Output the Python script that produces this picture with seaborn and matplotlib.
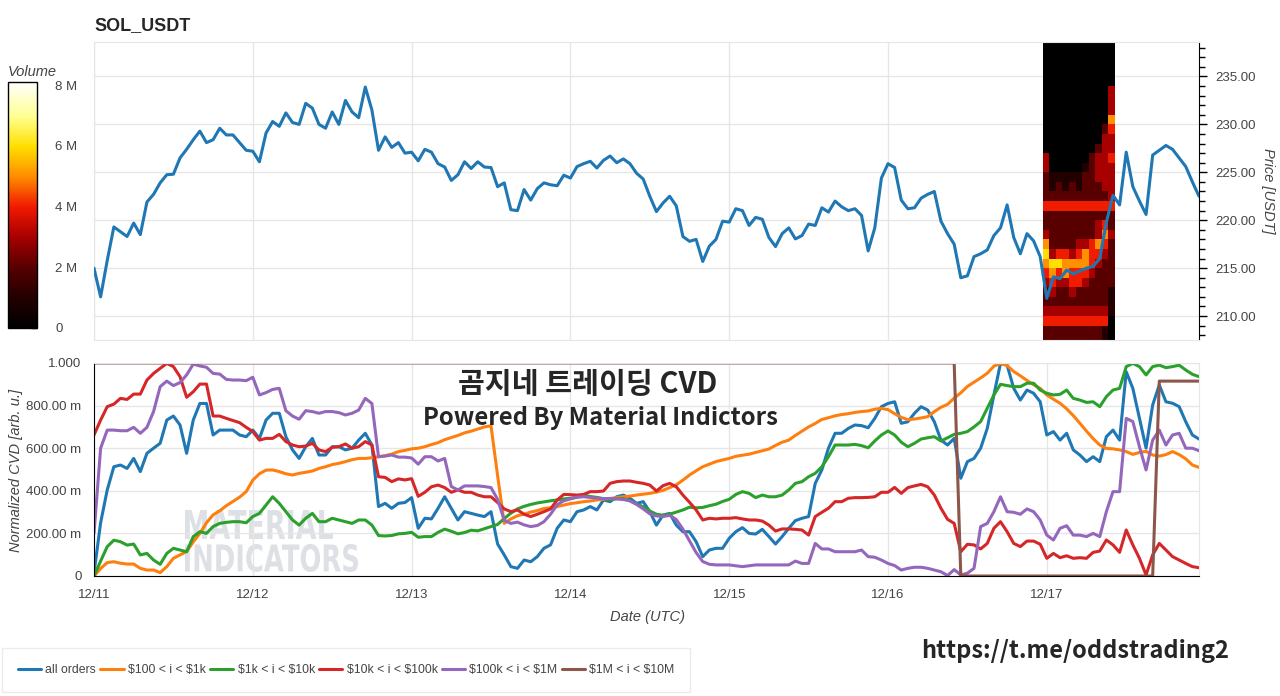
import numpy as np
import pandas as pd
import seaborn as sns
import matplotlib
matplotlib.use('Agg')
import matplotlib.pyplot as plt
from matplotlib.colors import LinearSegmentedColormap, Normalize
from matplotlib.cm import ScalarMappable
from matplotlib.ticker import MultipleLocator, FuncFormatter
from matplotlib.lines import Line2D
from matplotlib.textpath import TextPath
from matplotlib.patches import PathPatch
from matplotlib.font_manager import FontProperties
from matplotlib.transforms import Affine2D

W, H = 1280, 696

# ---- data (hourly, hour 0 = 12/11 00:00 UTC) ----
day_labels = ['12/11', '12/12', '12/13', '12/14', '12/15', '12/16', '12/17']

price = [215.0, 212.0, 215.8, 219.3, 218.8, 218.3, 219.7, 218.5, 221.9, 222.7,
         223.9, 224.75, 224.8, 226.5, 227.4, 228.4, 229.3, 228.1, 228.4, 229.6,
         228.9, 228.9, 228.1, 227.3, 227.2, 226.1, 229.1, 230.3, 229.8, 231.2,
         230.2, 230.0, 232.2, 231.7, 230.0, 229.6, 231.3, 230.0, 232.5, 231.3,
         230.7, 233.9, 231.5, 227.3, 228.7, 227.6, 228.1, 227.0, 227.1, 226.2,
         227.4, 227.1, 225.9, 225.55, 224.15, 224.75, 226.1, 225.4, 226.1, 225.55,
         225.5, 223.5, 223.9, 221.1, 221.0, 223.2, 222.1, 223.3, 223.9, 223.7,
         223.6, 224.7, 224.4, 225.6, 225.9, 226.15, 225.45, 226.25, 226.7, 226.0,
         226.4, 225.9, 224.9, 224.3, 222.5, 220.9, 221.8, 222.5, 221.5, 218.3,
         217.8, 218.0, 215.7, 217.3, 218.0, 219.9, 219.8, 221.2, 221.0, 219.45,
         220.3, 220.1, 218.2, 217.25, 218.6, 219.2, 218.05, 218.4, 219.6, 219.45,
         221.3, 220.85, 222.0, 221.4, 221.0, 221.2, 220.5, 216.8, 219.2, 224.4,
         225.9, 225.5, 222.1, 221.2, 221.3, 222.3, 222.7, 223.0, 219.9, 218.6,
         217.5, 214.0, 214.2, 216.2, 216.5, 216.9, 218.4, 219.2, 221.6, 218.2,
         216.5, 218.6, 217.85, 216.2, 211.85, 214.1, 213.9, 214.8, 214.4, 214.7,
         215.0, 215.2, 216.0, 219.8, 222.6, 221.6, 227.1, 223.5, 222.0, 220.6,
         226.8, 227.3, 227.8, 227.4, 226.5, 225.6, 224.0, 222.5]

cvd_all = [0.013, 0.25, 0.404, 0.513, 0.521, 0.505, 0.552, 0.49, 0.576, 0.60,
           0.623, 0.732, 0.751, 0.709, 0.576, 0.732, 0.81, 0.81, 0.662, 0.685,
           0.685, 0.685, 0.662, 0.654, 0.685, 0.646, 0.732, 0.764, 0.764, 0.654,
           0.592, 0.552, 0.607, 0.646, 0.568, 0.568, 0.607, 0.607, 0.592, 0.60,
           0.638, 0.67, 0.615, 0.326, 0.341, 0.318, 0.341, 0.345, 0.368, 0.224,
           0.271, 0.268, 0.318, 0.372, 0.318, 0.263, 0.302, 0.294, 0.286, 0.279,
           0.302, 0.15, 0.099, 0.044, 0.036, 0.075, 0.067, 0.091, 0.13, 0.146,
           0.224, 0.263, 0.255, 0.302, 0.31, 0.326, 0.31, 0.357, 0.349, 0.372,
           0.38, 0.365, 0.341, 0.349, 0.302, 0.239, 0.286, 0.294, 0.239, 0.208,
           0.208, 0.161, 0.091, 0.122, 0.13, 0.13, 0.177, 0.208, 0.227, 0.20,
           0.197, 0.219, 0.185, 0.15, 0.185, 0.224, 0.26, 0.271, 0.279, 0.435,
           0.498, 0.60, 0.67, 0.67, 0.693, 0.709, 0.706, 0.696, 0.74, 0.795,
           0.81, 0.818, 0.717, 0.724, 0.764, 0.795, 0.779, 0.724, 0.638, 0.615,
           0.646, 0.459, 0.537, 0.552, 0.60, 0.693, 0.85, 0.998, 0.99, 0.881,
           0.826, 0.873, 0.858, 0.818, 0.662, 0.678, 0.638, 0.67, 0.592, 0.568,
           0.537, 0.56, 0.537, 0.654, 0.685, 0.638, 0.959, 0.881, 0.74, 0.60,
           0.803, 0.897, 0.818, 0.811, 0.795, 0.724, 0.662, 0.643]

cvd_100_1k = [0.0, 0.035, 0.063, 0.067, 0.06, 0.056, 0.056, 0.036, 0.028, 0.028,
              0.016, 0.044, 0.083, 0.099, 0.115, 0.16, 0.20, 0.25, 0.287, 0.306,
              0.33, 0.35, 0.37, 0.396, 0.45, 0.48, 0.497, 0.498, 0.49, 0.48,
              0.474, 0.482, 0.487, 0.493, 0.505, 0.513, 0.523, 0.529, 0.537, 0.546,
              0.552, 0.552, 0.555, 0.56, 0.565, 0.572, 0.584, 0.59, 0.597, 0.60,
              0.607, 0.617, 0.626, 0.64, 0.65, 0.66, 0.672, 0.68, 0.69, 0.70,
              0.705, 0.47, 0.247, 0.268, 0.283, 0.29, 0.30, 0.307, 0.317, 0.32,
              0.326, 0.333, 0.34, 0.344, 0.349, 0.352, 0.357, 0.36, 0.364, 0.368,
              0.372, 0.375, 0.38, 0.384, 0.388, 0.394, 0.402, 0.415, 0.428, 0.45,
              0.474, 0.494, 0.513, 0.525, 0.537, 0.545, 0.552, 0.562, 0.567, 0.572,
              0.58, 0.588, 0.596, 0.613, 0.628, 0.638, 0.66, 0.68, 0.70, 0.716,
              0.735, 0.743, 0.752, 0.758, 0.762, 0.768, 0.772, 0.775, 0.783, 0.787,
              0.781, 0.762, 0.745, 0.734, 0.737, 0.742, 0.748, 0.772, 0.792, 0.806,
              0.835, 0.86, 0.89, 0.91, 0.93, 0.952, 0.985, 0.998, 0.988, 0.96,
              0.94, 0.918, 0.898, 0.881, 0.85, 0.83, 0.811, 0.785, 0.753, 0.717,
              0.68, 0.645, 0.615, 0.599, 0.597, 0.592, 0.584, 0.571, 0.58, 0.585,
              0.568, 0.563, 0.57, 0.584, 0.57, 0.55, 0.521, 0.51]

cvd_1k_10k = [0.0, 0.07, 0.138, 0.168, 0.161, 0.145, 0.15, 0.099, 0.106, 0.075,
              0.055, 0.106, 0.13, 0.122, 0.114, 0.185, 0.208, 0.20, 0.232, 0.247,
              0.252, 0.255, 0.255, 0.25, 0.279, 0.294, 0.333, 0.372, 0.341, 0.302,
              0.263, 0.239, 0.271, 0.294, 0.255, 0.255, 0.271, 0.263, 0.255, 0.247,
              0.263, 0.263, 0.239, 0.19, 0.188, 0.19, 0.198, 0.20, 0.205, 0.182,
              0.185, 0.185, 0.205, 0.22, 0.21, 0.198, 0.204, 0.215, 0.212, 0.222,
              0.232, 0.242, 0.27, 0.295, 0.315, 0.327, 0.336, 0.343, 0.348, 0.353,
              0.357, 0.362, 0.365, 0.37, 0.38, 0.373, 0.369, 0.363, 0.358, 0.363,
              0.363, 0.353, 0.338, 0.325, 0.305, 0.29, 0.285, 0.29, 0.30, 0.31,
              0.323, 0.32, 0.322, 0.33, 0.337, 0.35, 0.36, 0.383, 0.396, 0.388,
              0.368, 0.38, 0.372, 0.372, 0.38, 0.404, 0.435, 0.443, 0.466, 0.482,
              0.513, 0.56, 0.615, 0.615, 0.615, 0.618, 0.612, 0.602, 0.634, 0.662,
              0.681, 0.662, 0.628, 0.607, 0.623, 0.643, 0.649, 0.654, 0.634, 0.649,
              0.665, 0.67, 0.678, 0.70, 0.725, 0.787, 0.85, 0.90, 0.894, 0.889,
              0.889, 0.905, 0.905, 0.873, 0.858, 0.85, 0.853, 0.873, 0.834, 0.826,
              0.815, 0.818, 0.795, 0.842, 0.873, 0.881, 0.983, 0.998, 0.983, 0.944,
              0.983, 0.99, 0.978, 0.983, 0.99, 0.967, 0.947, 0.936]

cvd_10k_100k = [0.662, 0.732, 0.795, 0.807, 0.834, 0.829, 0.854, 0.854, 0.92, 0.951,
                0.975, 0.998, 0.983, 0.936, 0.839, 0.865, 0.901, 0.901, 0.751, 0.751,
                0.74, 0.73, 0.72, 0.698, 0.678, 0.638, 0.646, 0.646, 0.665, 0.631,
                0.615, 0.607, 0.61, 0.623, 0.592, 0.584, 0.604, 0.607, 0.62, 0.60,
                0.607, 0.631, 0.615, 0.466, 0.463, 0.443, 0.456, 0.451, 0.457, 0.374,
                0.393, 0.419, 0.427, 0.415, 0.393, 0.404, 0.393, 0.393, 0.38, 0.372,
                0.372, 0.345, 0.315, 0.302, 0.31, 0.29, 0.279, 0.29, 0.302, 0.315,
                0.357, 0.383, 0.382, 0.38, 0.383, 0.396, 0.396, 0.399, 0.435, 0.443,
                0.446, 0.446, 0.44, 0.435, 0.427, 0.399, 0.424, 0.435, 0.419, 0.38,
                0.346, 0.31, 0.263, 0.271, 0.268, 0.271, 0.271, 0.274, 0.268, 0.263,
                0.263, 0.258, 0.239, 0.211, 0.221, 0.221, 0.219, 0.216, 0.192, 0.279,
                0.299, 0.318, 0.349, 0.349, 0.365, 0.368, 0.368, 0.369, 0.372, 0.393,
                0.393, 0.416, 0.388, 0.415, 0.423, 0.43, 0.419, 0.38, 0.318, 0.266,
                0.247, 0.114, 0.149, 0.146, 0.127, 0.153, 0.224, 0.255, 0.208, 0.153,
                0.138, 0.164, 0.164, 0.149, 0.083, 0.106, 0.086, 0.095, 0.083, 0.086,
                0.083, 0.111, 0.117, 0.169, 0.146, 0.111, 0.216, 0.146, 0.083, 0.005,
                0.099, 0.153, 0.122, 0.091, 0.075, 0.059, 0.044, 0.039]

cvd_100k_1m = [0.2, 0.6, 0.685, 0.685, 0.682, 0.682, 0.698, 0.67, 0.698, 0.772,
               0.889, 0.915, 0.894, 0.908, 0.944, 0.995, 0.986, 0.98, 0.951, 0.948,
               0.923, 0.92, 0.92, 0.917, 0.933, 0.85, 0.861, 0.876, 0.881, 0.776,
               0.751, 0.736, 0.776, 0.772, 0.764, 0.772, 0.772, 0.767, 0.756, 0.764,
               0.779, 0.834, 0.81, 0.56, 0.563, 0.568, 0.558, 0.558, 0.554, 0.525,
               0.56, 0.56, 0.54, 0.552, 0.42, 0.404, 0.423, 0.423, 0.423, 0.42,
               0.415, 0.36, 0.262, 0.247, 0.253, 0.24, 0.232, 0.237, 0.255, 0.29,
               0.335, 0.353, 0.362, 0.37, 0.372, 0.369, 0.366, 0.363, 0.364, 0.362,
               0.359, 0.353, 0.336, 0.315, 0.292, 0.282, 0.279, 0.285, 0.265, 0.22,
               0.165, 0.11, 0.068, 0.055, 0.052, 0.052, 0.052, 0.048, 0.044, 0.048,
               0.052, 0.052, 0.052, 0.052, 0.052, 0.052, 0.07, 0.059, 0.059, 0.153,
               0.127, 0.127, 0.114, 0.114, 0.114, 0.114, 0.122, 0.091, 0.088, 0.075,
               0.059, 0.049, 0.028, 0.036, 0.041, 0.041, 0.036, 0.028, 0.02, 0.002,
               0.03, 0.005, 0.013, 0.036, 0.232, 0.247, 0.302, 0.372, 0.302, 0.299,
               0.29, 0.315, 0.302, 0.263, 0.192, 0.169, 0.224, 0.236, 0.192, 0.192,
               0.185, 0.20, 0.185, 0.302, 0.396, 0.396, 0.74, 0.725, 0.607, 0.498,
               0.638, 0.685, 0.615, 0.662, 0.67, 0.60, 0.60, 0.588]

# $1M-$10M bucket is a step line: hours where it changes and its values
cvd_1m_10m_hours = [0, 130, 131, 160, 161, 167]
cvd_1m_10m = [1.0, 1.0, 0.0, 0.0, 0.915, 0.915]

series_names = ['all orders', r'\$100 < i < \$1k', r'\$1k < i < \$10k',
                r'\$10k < i < \$100k', r'\$100k < i < \$1M', r'\$1M < i < \$10M']
series_colors = ['#1f77b4', '#ff7f0e', '#2ca02c', '#d62728', '#9467bd', '#8c564b']

# volume heatmap (values in M), one row per 1 USDT price bin, top row = 238
heat_rows = ['00000000000', '00000000000', '00000000000', '00000000000',
             '00000000000', '00000000003', '00000000003', '00000000003',
             '00000000005', '00000000024', '00000000033', '00000000233',
             '30000002334', '30000012333', '21111122333', '21212122233',
             '22222222223', '44444444444', '22222222222', '22222222342',
             '32222222353', '52222334542', '63443454432', '56655554322',
             '45454443222', '34334432222', '23223222221', '22222222221',
             '33333333331', '44444444440', '22222222210', '22222222210']
heat_top_price = 238
heat_start_hour = 143.4
heat_col_hours = 0.99

# ---- style ----
sns.set_style('white')
plt.rcParams['font.family'] = ['Liberation Sans', 'DejaVu Sans']
korean = ['Noto Sans CJK KR', 'DejaVu Sans']
txt_gray = '#444444'
grid_c = '#e6e6e6'

fig = plt.figure(figsize=(W / 100, H / 100), dpi=100)


def box(x0, y0, x1, y1):
    return [x0 / W, 1 - y1 / H, (x1 - x0) / W, (y1 - y0) / H]


ax_top = fig.add_axes(box(94, 42, 1199, 340))
ax_bot = fig.add_axes(box(94, 363, 1199, 576))
cax = fig.add_axes(box(8, 82, 37, 328))

hours = np.arange(len(price))
day_ticks = np.arange(len(day_labels)) * 24

cmap = LinearSegmentedColormap.from_list('fire', [
    (0.0, '#000000'), (0.125, '#240000'), (0.247, '#580000'), (0.37, '#a80000'),
    (0.49, '#f01800'), (0.62, '#ff9000'), (0.74, '#ffe000'), (0.86, '#ffff90'),
    (1.0, '#ffffff')])
norm = Normalize(vmin=0, vmax=8.1)

# ---- top panel: price + heatmap ----
Z = np.array([[int(c) for c in r] for r in heat_rows[::-1]], dtype=float)
p_edges = heat_top_price + 1 - len(heat_rows) + np.arange(len(heat_rows) + 1)
t_edges = heat_start_hour + np.arange(Z.shape[1] + 1) * heat_col_hours
ax_top.pcolormesh(t_edges, p_edges, Z, cmap=cmap, norm=norm, zorder=1)

sns.lineplot(x=hours, y=price, ax=ax_top, color=series_colors[0], linewidth=2.2, zorder=3)
ax_top.set_xlim(0, 167)
ax_top.set_ylim(207.5, 238.6)
ax_top.set_xticks(day_ticks)
ax_top.tick_params(axis='x', length=0, labelbottom=False)
ax_top.yaxis.tick_right()
ax_top.yaxis.set_major_locator(MultipleLocator(5))
ax_top.yaxis.set_minor_locator(MultipleLocator(1))
ax_top.yaxis.set_major_formatter(FuncFormatter(lambda v, p: f'{v:.2f}'))
ax_top.tick_params(axis='y', which='major', length=6, width=1, color='black',
                   labelsize=9.5, labelcolor=txt_gray, pad=6)
ax_top.tick_params(axis='y', which='minor', length=4, width=1, color='black')
ax_top.grid(True, color=grid_c, linewidth=1)
ax_top.set_axisbelow(True)
ax_top.set_xlabel('')
ax_top.set_ylabel('')
for s in ['left', 'top', 'bottom']:
    ax_top.spines[s].set_color(grid_c)
ax_top.spines['right'].set_color('black')

# ---- bottom panel: CVD lines ----
frames = []
for name, vals in zip(series_names[:5], [cvd_all, cvd_100_1k, cvd_1k_10k, cvd_10k_100k, cvd_100k_1m]):
    frames.append(pd.DataFrame({'hour': hours, 'cvd': vals, 'bucket': name}))
frames.append(pd.DataFrame({'hour': cvd_1m_10m_hours, 'cvd': cvd_1m_10m, 'bucket': series_names[5]}))
cvd = pd.concat(frames, ignore_index=True)

sns.lineplot(data=cvd, x='hour', y='cvd', hue='bucket', hue_order=series_names,
             palette=series_colors, linewidth=2.2, legend=False, ax=ax_bot)
ax_bot.set_xlim(0, 167)
ax_bot.set_ylim(0, 1.0)
ax_bot.set_xticks(day_ticks)
ax_bot.set_xticklabels(day_labels)
ax_bot.yaxis.set_major_locator(MultipleLocator(0.2))
ax_bot.yaxis.set_minor_locator(MultipleLocator(0.04))


def cvd_fmt(v, p):
    if abs(v) < 1e-9:
        return '0'
    if abs(v - 1) < 1e-9:
        return '1.000'
    return f'{v * 1000:.2f} m'


ax_bot.yaxis.set_major_formatter(FuncFormatter(cvd_fmt))
ax_bot.tick_params(axis='both', which='major', length=6, width=1, color='black',
                   labelsize=9.5, labelcolor=txt_gray, pad=3, direction='out')
ax_bot.tick_params(axis='y', which='minor', length=4, width=1, color='black', direction='out')
ax_bot.grid(True, color=grid_c, linewidth=1)
ax_bot.set_axisbelow(True)
ax_bot.set_xlabel('')
ax_bot.set_ylabel('')
for s in ['top', 'right']:
    ax_bot.spines[s].set_color(grid_c)
for s in ['left', 'bottom']:
    ax_bot.spines[s].set_color('black')

# watermark (drawn below the lines)
wm_font = FontProperties(family='DejaVu Sans', weight='bold')
for word, (x0, y0, x1, y1) in [('MATERIAL', (185, 510, 333, 539)),
                               ('INDICATORS', (185, 544, 358, 572))]:
    tp = TextPath((0, 0), word, size=1, prop=wm_font)
    ext = tp.get_extents()
    sx = (x1 - x0) / ext.width / W
    sy = (y1 - y0) / ext.height / H
    tr = Affine2D().translate(-ext.x0, -ext.y0).scale(sx, sy).translate(x0 / W, 1 - y1 / H)
    fig.patches.append(PathPatch(tr.transform_path(tp), transform=fig.transFigure,
                                 facecolor='#dde0e4', edgecolor='none', zorder=0.5))
ax_bot.patch.set_alpha(0)
ax_bot.set_zorder(1)

# ---- colorbar ----
cb = fig.colorbar(ScalarMappable(norm=norm, cmap=cmap), cax=cax, ticks=[0, 2, 4, 6, 8])
cb.ax.set_yticklabels(['0', '2 M', '4 M', '6 M', '8 M'])
cb.ax.tick_params(direction='in', length=4, width=1, color='black', labelsize=9.5,
                  labelcolor=txt_gray, pad=13)
cb.outline.set_edgecolor('black')
cb.outline.set_linewidth(1)

# ---- texts ----
fig.text(94 / W, 1 - 26 / H, 'SOL_USDT', fontsize=13, fontweight='bold', va='center', ha='left')
fig.text(8 / W, 1 - 72 / H, 'Volume', fontsize=10.5, style='italic', color=txt_gray, va='center')
fig.text(1268 / W, 1 - 191 / H, 'Price [USDT]', fontsize=10.5, style='italic', color=txt_gray,
         rotation=270, va='center', ha='center')
fig.text(16 / W, 1 - 470 / H, 'Normalized CVD [arb. u.]', fontsize=10.5, style='italic',
         color=txt_gray, rotation=90, va='center', ha='center')
fig.text(648 / W, 1 - 617 / H, 'Date (UTC)', fontsize=10.5, style='italic', color=txt_gray,
         va='center', ha='center')
fig.text(588 / W, 1 - 384 / H, '곰지네 트레이딩 CVD', family=korean, fontsize=21,
         fontweight='bold', va='center', ha='center', zorder=5)
fig.text(600 / W, 1 - 418 / H, 'Powered By Material Indictors', family=korean, fontsize=17.2,
         fontweight='bold', va='center', ha='center', zorder=5)
fig.text(1075 / W, 1 - 651 / H, 'https://t.me/oddstrading2', family=korean, fontsize=17,
         fontweight='bold', va='center', ha='center')

# ---- legend ----
handles = [Line2D([0], [0], color=c, linewidth=2.2) for c in series_colors]
leg = fig.legend(handles, series_names, loc='center left', bbox_to_anchor=(2 / W, 1 - 670 / H),
                 ncol=6, fontsize=8.8, frameon=True, fancybox=False, edgecolor=grid_c,
                 handlelength=1.9, handletextpad=0.35, columnspacing=0.35, borderpad=1.3,
                 borderaxespad=0)
for t in leg.get_texts():
    t.set_color(txt_gray)

fig.savefig('out.png', dpi=100)
